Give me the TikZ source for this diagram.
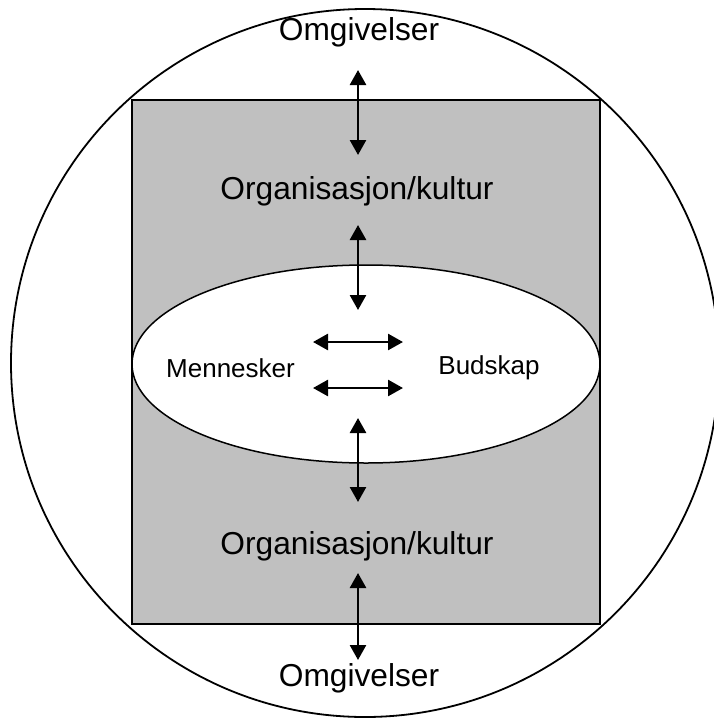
\documentclass[tikz,border=0pt]{standalone}
\usepackage{fontspec}
\setmainfont{Liberation Sans}
\usetikzlibrary{arrows.meta}
\definecolor{panel}{RGB}{192,192,192}
\begin{document}
\begin{tikzpicture}[x=1pt,y=-1pt,
  bigtext/.style={font=\fontsize{31.7}{36}\selectfont, inner sep=0pt},
  smalltext/.style={font=\fontsize{26}{30}\selectfont, inner sep=0pt},
  link/.style={line width=2.6pt, {Triangle[length=15pt,width=16pt]}-{Triangle[length=15pt,width=16pt]}},
  outline/.style={line width=1.8pt}]
  \useasboundingbox (0,0) rectangle (714,718);
  % outer world
  \fill[white] (0,0) rectangle (714,718);
  \draw[outline] (365,363) circle (354);
  % organisation block
  \draw[outline, fill=panel] (132,100) rectangle (600,624);
  % core ellipse
  \draw[line width=1.5pt, fill=white] (366,364) ellipse (234 and 99);

  % labels
  \node[bigtext] (envtop) at (359,32) {Omgivelser};
  \node[bigtext] (orgtop) at (357,191) {Organisasjon/kultur};
  \node[smalltext] (people) at (230.5,368) {Mennesker};
  \node[smalltext] (message) at (489,368) {Budskap};
  \node[bigtext] (orgbot) at (357,546) {Organisasjon/kultur};
  \node[bigtext] (envbot) at (359,678) {Omgivelser};

  % arrow end points
  \coordinate (a1) at (358,70);  \coordinate (a2) at (358,155);
  \coordinate (b1) at (358,225); \coordinate (b2) at (358,310);
  \coordinate (c1) at (358,418); \coordinate (c2) at (358,502);
  \coordinate (d1) at (358,573); \coordinate (d2) at (358,660);
  \coordinate (h1) at (313,342); \coordinate (h2) at (403,342);
  \coordinate (k1) at (313,388); \coordinate (k2) at (403,388);

  \draw[link] (a1) -- (a2);
  \draw[link] (b1) -- (b2);
  \draw[link] (c1) -- (c2);
  \draw[link] (d1) -- (d2);
  \draw[link] (h1) -- (h2);
  \draw[link] (k1) -- (k2);
\end{tikzpicture}
\end{document}
